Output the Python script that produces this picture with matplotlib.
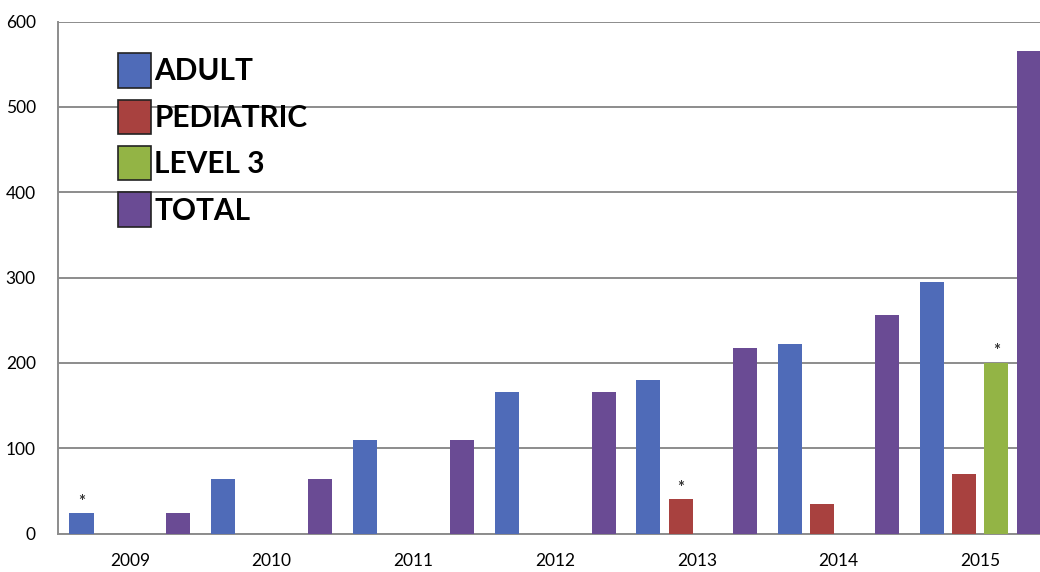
import numpy as np
import matplotlib.pyplot as plt
from matplotlib.patches import Patch

# values
years = ['2009', '2010', '2011', '2012', '2013', '2014', '2015']
adult = [24, 64, 110, 166, 180, 222, 295]
pediatric = [np.nan, np.nan, np.nan, np.nan, 40, 34, 70]
level3 = [np.nan, np.nan, np.nan, np.nan, np.nan, np.nan, 200]
total = [24, 64, 110, 166, 218, 256, 566]
series_names = ['ADULT', 'PEDIATRIC', 'LEVEL 3', 'TOTAL']
# bars marked with an asterisk: (series index, year index)
starred = [(0, 0), (1, 4), (2, 6)]

colors = ['#4f6bb8', '#a8413f', '#93b445', '#6a4b94']
plt.rcParams['font.family'] = ['Lato', 'DejaVu Sans']

fig = plt.figure(figsize=(10.4, 5.72), dpi=100)
ax = fig.add_axes([58/1040, (572-533.5)/572, (1040-58)/1040, (533.5-21.7)/572])

x = np.arange(len(years))
slot = 0.228
width = 0.17
all_series = [adult, pediatric, level3, total]
for i, vals in enumerate(all_series):
    ax.bar(x + (i - 1.5)*slot, vals, width, color=colors[i], zorder=3)

for si, yi in starred:
    ax.text(x[yi] + (si - 1.5)*slot, all_series[si][yi] + 4, '*',
            ha='center', va='bottom', fontsize=12, color='#333333', fontweight='bold')

ax.set_xlim(-0.508, 6.422)
ax.set_ylim(0, 600)
ax.set_yticks(range(0, 601, 100))
ax.set_xticks(x)
ax.set_xticklabels(years)
ax.tick_params(axis='both', length=0, labelsize=12.5, colors='black')
ax.tick_params(axis='y', pad=16)
ax.tick_params(axis='x', pad=14)
ax.grid(axis='y', color='#8c8c8c', linewidth=1.4, zorder=0)
for side in ['top', 'right']:
    ax.spines[side].set_visible(False)
ax.spines['left'].set_color('#8c8c8c')
ax.spines['bottom'].set_color('#8c8c8c')
ax.spines['left'].set_linewidth(1.4)
ax.spines['bottom'].set_linewidth(1.4)

handles = [Patch(facecolor=c, edgecolor='#222222', linewidth=1.2) for c in colors]
leg = ax.legend(handles, series_names, loc='upper left', bbox_to_anchor=(0.049, 0.962),
                frameon=False, prop={'size': 21.5, 'weight': 'bold'},
                handlelength=1.1, handleheight=1.4, handletextpad=0.12,
                labelspacing=0.4, borderaxespad=0)
leg.set_zorder(5)

fig.savefig('out.png', dpi=100)
